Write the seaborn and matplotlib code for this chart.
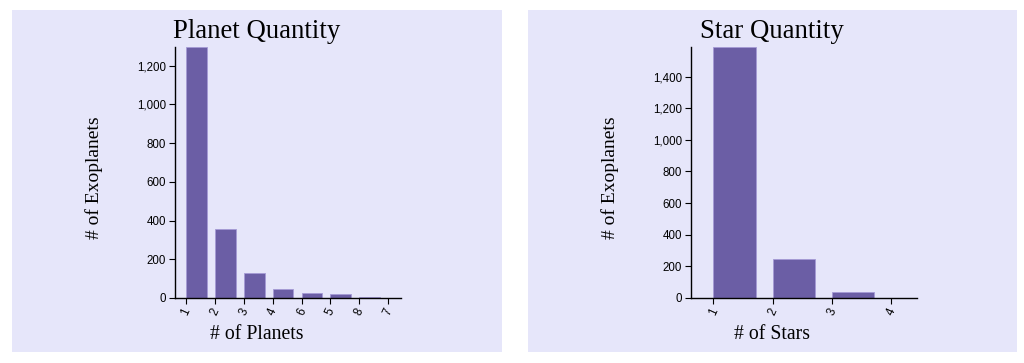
import numpy as np
import pandas as pd
import seaborn as sns
import matplotlib.pyplot as plt
from matplotlib.patches import Rectangle
from matplotlib.ticker import FuncFormatter

# planet counts per system, order as in the source chart
planet_cats = ['1', '2', '3', '4', '6', '5', '8', '7']
planet_vals = [1297, 355, 128, 45, 24, 21, 5, 1]

# star counts per system
star_cats = ['1', '2', '3', '4']
star_vals = [1587, 249, 36, 1]

panel_bg = '#e6e6fa'
bar_col = '#6b5ea5'
serif = ['Liberation Serif', 'DejaVu Serif']
sans = ['Liberation Sans', 'DejaVu Sans']

sns.set_style('ticks')
plt.rcParams.update({'font.family': sans, 'axes.linewidth': 1.0,
                     'text.color': 'black', 'axes.labelcolor': 'black',
                     'xtick.color': 'black', 'ytick.color': 'black',
                     'xtick.major.size': 4.3, 'ytick.major.size': 4.3,
                     'xtick.major.pad': 2, 'ytick.major.pad': 2})

fig = plt.figure(figsize=(10.24, 3.63), dpi=100)
fig.patch.set_facecolor('white')

# lavender card behind each chart
fig.patches.append(Rectangle((0.0117, 0.0303), 0.4785, 0.9421, transform=fig.transFigure,
                             facecolor=panel_bg, edgecolor='none', zorder=-5))
fig.patches.append(Rectangle((0.5156, 0.0303), 0.4775, 0.9421, transform=fig.transFigure,
                             facecolor=panel_bg, edgecolor='none', zorder=-5))

ax1 = fig.add_axes([0.1709, 0.1791, 0.2207, 0.6915])
ax2 = fig.add_axes([0.6748, 0.1791, 0.2207, 0.6915])

bw = 0.72
setup = [(ax1, planet_cats, planet_vals, 'Planet Quantity', '# of Planets', 200),
         (ax2, star_cats, star_vals, 'Star Quantity', '# of Stars', 200)]

for ax, cats, vals, title, xlab, step in setup:
    ax.set_zorder(5)
    df = pd.DataFrame({'cat': cats, 'n': vals})
    sns.barplot(ax=ax, data=df, x='cat', y='n', order=cats, color=bar_col,
                saturation=1, width=bw, edgecolor='#a59ad6', linewidth=0.6)
    ax.set_facecolor('none')
    n = len(cats)
    ax.set_xlim(-bw / 2 - 0.38, n - 1 + 0.08)
    ax.set_ylim(0, max(vals))
    ax.set_xticks(np.arange(n) - bw / 2)
    ax.set_xticklabels(cats, rotation=65, ha='center', va='top', fontsize=8.3)
    ax.set_yticks(np.arange(0, max(vals), step))
    ax.yaxis.set_major_formatter(FuncFormatter(lambda v, p: f'{int(v):,}'))
    ax.tick_params(axis='y', labelsize=8.3)
    sns.despine(ax=ax)
    for s in ['left', 'bottom']:
        ax.spines[s].set_color('black')
    ax.set_title(title, family=serif, fontsize=19.3, x=0.36, y=1.036, pad=0)
    ax.set_xlabel(xlab, family=serif, fontsize=14.2)
    ax.set_ylabel('# of Exoplanets', family=serif, fontsize=14)
    ax.xaxis.set_label_coords(0.36, -0.108)
    ax.yaxis.set_label_coords(-0.32, 0.48)

plt.savefig('out.png', dpi=100)
